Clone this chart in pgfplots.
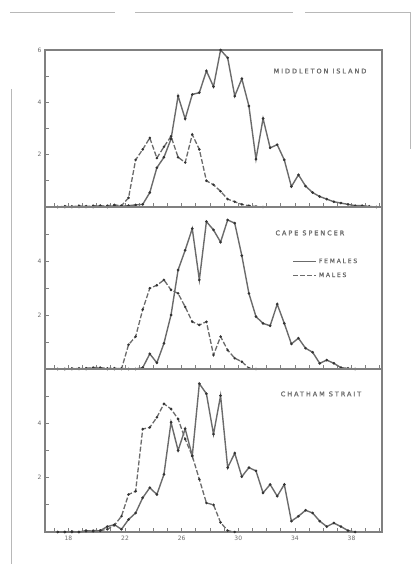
\documentclass[border=0pt]{standalone}
\usepackage{fontspec}
\setmainfont{DejaVu Sans}
\newfontfamily\lspA{DejaVu Sans}[LetterSpace=30, FakeBold=1.5]
\newfontfamily\lspB{DejaVu Sans}[LetterSpace=42]
\usepackage{pgfplots}
\pgfplotsset{compat=1.18}
\definecolor{ink}{gray}{0.42}
\definecolor{frm}{gray}{0.5}
\definecolor{scan}{gray}{0.72}
\pgfplotsset{
  panel/.style={
    scale only axis, width=337pt,
    xmin=16.35, xmax=40.15, ymin=0, ymax=6,
    axis line style={frm, line width=1.1pt},
    xtick={17,...,40}, xticklabels={},
    tick align=inside, xtick pos=left, ytick pos=left,
    major tick length=4pt,
    tick style={frm, line width=0.8pt},
    /pgf/number format/assume math mode=true,
    ticklabel style={font=\fontsize{6}{7}\selectfont, text=ink},
  },
  fem/.style={ink, line width=1.4pt, mark=*, mark size=0.5pt, mark options={black!80, solid}},
  mal/.style={ink, line width=1.3pt, dash pattern=on 5pt off 2pt, mark=*, mark size=0.5pt, mark options={black!80, solid}},
}
\begin{document}
\begin{tikzpicture}
\path[use as bounding box] (0,0) rectangle (414pt,569pt);
% scan border traces
\draw[scan, line width=0.8pt] (10pt,557pt) -- (115pt,557pt) (135pt,557pt) -- (293pt,557pt) (305pt,557pt) -- (410pt,557pt);
\draw[scan, line width=0.8pt] (11pt,480pt) -- (11pt,5pt);
\draw[scan, line width=0.8pt] (410pt,557pt) -- (410pt,420pt);

% ---------------- TOP: MIDDLETON ISLAND ----------------
\begin{axis}[panel, height=157pt, at={(45pt,362pt)}, anchor=south west,
  ytick={1,...,6}, yticklabels={,2,,4,,6}]
\addplot[fem] table {
x y
17.25 0
17.75 0
18.25 0.02
18.75 0
19.25 0.03
19.75 0
20.25 0.05
20.75 0
21.25 0.05
21.75 0.03
22.25 0.05
22.75 0.08
23.25 0.1
23.75 0.55
24.25 1.5
24.75 1.9
25.25 2.6
25.75 4.24
26.25 3.37
26.75 4.3
27.25 4.37
27.75 5.2
28.25 4.6
28.75 6.0
29.25 5.7
29.75 4.24
30.25 4.9
30.75 3.86
31.25 1.83
31.75 3.38
32.25 2.26
32.75 2.38
33.25 1.8
33.75 0.78
34.25 1.23
34.75 0.8
35.25 0.55
35.75 0.4
36.25 0.3
36.75 0.2
37.25 0.15
37.75 0.1
38.25 0.05
38.75 0.05
39.25 0.02
39.75 0
};
\addplot[mal] table {
x y
17.25 0
17.75 0.03
18.25 0
18.75 0.05
19.25 0
19.75 0.05
20.25 0.03
20.75 0.05
21.25 0.08
21.75 0.05
22.25 0.35
22.75 1.8
23.25 2.2
23.75 2.64
24.25 1.87
24.75 2.3
25.25 2.7
25.75 1.9
26.25 1.7
26.75 2.77
27.25 2.2
27.75 1.0
28.25 0.85
28.75 0.6
29.25 0.3
29.75 0.2
30.25 0.1
30.75 0.05
31.25 0.02
31.75 0
};
\node[font=\lspA\fontsize{6.5}{7}\selectfont, text=ink] at (rel axis cs:0.816,0.866) {MIDDLETON ISLAND};
\end{axis}

% ---------------- MIDDLE: CAPE SPENCER ----------------
\begin{axis}[panel, height=162pt, at={(45pt,200pt)}, anchor=south west,
  ytick={1,...,5}, yticklabels={,2,,4,},
  legend style={at={(0.725,0.62)}, anchor=west, draw=none, fill=none,
    font=\lspA\fontsize{6}{7}\selectfont, text=ink, row sep=4pt,
    cells={anchor=west}},
  legend image code/.code={\draw[#1, mark=none] (0pt,0pt) -- (23pt,0pt);}]
\addplot[fem] table {
x y
17.25 0
17.75 0
18.25 0
18.75 0.02
19.25 0
19.75 0.03
20.25 0.03
20.75 0
21.25 0
21.75 0.02
22.25 0
22.75 0
23.25 0.05
23.75 0.56
24.25 0.23
24.75 0.95
25.25 2.0
25.75 3.67
26.25 4.4
26.75 5.2
27.25 3.3
27.75 5.46
28.25 5.15
28.75 4.7
29.25 5.52
29.75 5.4
30.25 4.2
30.75 2.8
31.25 1.94
31.75 1.69
32.25 1.6
32.75 2.4
33.25 1.69
33.75 0.93
34.25 1.14
34.75 0.77
35.25 0.62
35.75 0.21
36.25 0.33
36.75 0.21
37.25 0.05
37.75 0.02
38.25 0
};
\addlegendentry{FEMALES}
\addplot[mal] table {
x y
17.25 0
17.75 0
18.25 0.02
18.75 0
19.25 0.03
19.75 0.05
20.25 0.05
20.75 0.02
21.25 0.03
21.75 0
22.25 0.9
22.75 1.2
23.25 2.2
23.75 2.99
24.25 3.1
24.75 3.3
25.25 2.93
25.75 2.8
26.25 2.3
26.75 1.75
27.25 1.63
27.75 1.75
28.25 0.52
28.75 1.2
29.25 0.7
29.75 0.4
30.25 0.27
30.75 0.03
31.25 0
};
\addlegendentry{MALES}
\node[font=\lspA\fontsize{6.5}{7}\selectfont, text=ink] at (rel axis cs:0.786,0.84) {CAPE SPENCER};
\node[font=\lspB\fontsize{8}{9}\selectfont, text=ink, rotate=90] at (rel axis cs:0,0.55) [yshift=20pt] {PERCENTAGE OF TOTAL};
\end{axis}

% ---------------- BOTTOM: CHATHAM STRAIT ----------------
\begin{axis}[panel, height=163pt, at={(45pt,37pt)}, anchor=south west,
  ytick={1,...,5}, yticklabels={,2,,4,},
  xticklabels={,18,,,,22,,,,26,,,,30,,,,34,,,,38,,},
  xticklabel style={yshift=-1pt}]
\addplot[fem] table {
x y
17.25 0
17.75 0
18.25 0
18.75 0
19.25 0.05
19.75 0.03
20.25 0.05
20.75 0.2
21.25 0.27
21.75 0.1
22.25 0.46
22.75 0.7
23.25 1.26
23.75 1.63
24.25 1.38
24.75 2.12
25.25 4.04
25.75 3.0
26.25 3.8
26.75 2.8
27.25 5.46
27.75 5.09
28.25 3.6
28.75 5.02
29.25 2.37
29.75 2.9
30.25 2.04
30.75 2.37
31.25 2.25
31.75 1.44
32.25 1.75
32.75 1.32
33.25 1.75
33.75 0.4
34.25 0.58
34.75 0.8
35.25 0.7
35.75 0.4
36.25 0.2
36.75 0.33
37.25 0.2
37.75 0.05
38.25 0
};
\addplot[mal] table {
x y
17.25 0
17.75 0
18.25 0.02
18.75 0
19.25 0.03
19.75 0.05
20.25 0.05
20.75 0.1
21.25 0.25
21.75 0.58
22.25 1.38
22.75 1.5
23.25 3.79
23.75 3.85
24.25 4.22
24.75 4.72
25.25 4.53
25.75 4.16
26.25 3.42
26.75 2.8
27.25 1.94
27.75 1.07
28.25 1.0
28.75 0.35
29.25 0.05
29.75 0
};
\node[font=\lspA\fontsize{6.5}{7}\selectfont, text=ink] at (rel axis cs:0.819,0.847) {CHATHAM STRAIT};
\node[font=\lspB\fontsize{8}{9}\selectfont, text=ink] at (rel axis cs:0.516,0) [yshift=-27pt] {FORK LENGTH IN INCHES};
\end{axis}
\end{tikzpicture}
\end{document}
